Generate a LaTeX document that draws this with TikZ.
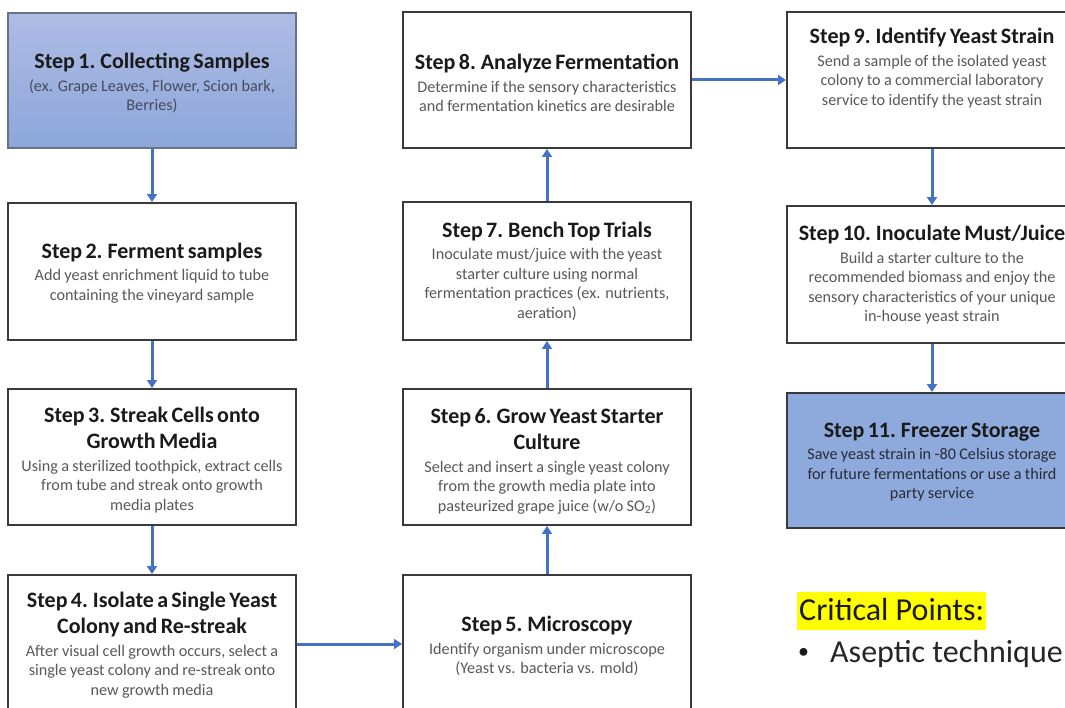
\documentclass[tikz,border=0pt]{standalone}
\usepackage{fontspec}
\setmainfont{Carlito}
\usetikzlibrary{arrows.meta}
\definecolor{arrowblue}{HTML}{4472C4}
\definecolor{boxline}{HTML}{3A3A3A}
\definecolor{titlecol}{HTML}{1A1A1A}
\definecolor{bodycol}{HTML}{595959}
\definecolor{bluetop}{RGB}{174,188,229}
\definecolor{bluebot}{RGB}{141,166,218}
\definecolor{blueline}{RGB}{105,115,135}
\definecolor{bluefill}{RGB}{142,169,219}
\definecolor{hilite}{HTML}{FFFF00}
\newcommand{\ttl}[1]{{\fontsize{22}{26.5}\selectfont\bfseries\color{titlecol}#1\par}\vspace{3pt}}
\newcommand{\bdy}[1]{{\fontsize{16.2}{19.5}\selectfont #1\par}}
\tikzset{
  box/.style={draw=boxline, line width=1.9pt, minimum width=288pt, minimum height=137pt, inner sep=0pt, fill=white},
  rbox/.style={box, minimum width=290pt},
  txt/.style={text width=300pt, align=center, inner sep=0pt, text=bodycol},
  flow/.style={draw=arrowblue, line width=3pt, -{Triangle[length=8pt,width=10pt]}},
}
\begin{document}
\begin{tikzpicture}[x=1pt,y=-1pt]
\useasboundingbox (0,0) rectangle (1065,708);
\clip (0,0) rectangle (1065,708);
% boxes
\node[box, draw=blueline, top color=bluetop, bottom color=bluebot, minimum height=135pt] (s1) at (152,80.5) {};
\node[box] (s2) at (152,271.5) {};
\node[box, minimum height=136pt] (s3) at (152,457) {};
\node[box, minimum height=138pt] (s4) at (152,644) {};
\node[box, minimum height=138pt] (s5) at (547,644) {};
\node[box, minimum height=136pt] (s6) at (547,457) {};
\node[box, minimum height=138pt] (s7) at (547,271) {};
\node[box, minimum height=136pt] (s8) at (547,80) {};
\node[rbox, minimum height=136pt] (s9) at (932,80) {};
\node[rbox] (s10) at (932,274.5) {};
\node[rbox, fill=bluefill, minimum height=135pt] (s11) at (932,460.5) {};
% texts
\node[txt, text={rgb,255:red,70;green,75;blue,90}] (t1) at (152,83) {\ttl{Step 1. Collecting Samples}\bdy{(ex. Grape Leaves, Flower, Scion bark,\\Berries)}};
\node[txt] (t2) at (152,273) {\ttl{Step 2. Ferment samples}\bdy{Add yeast enrichment liquid to tube\\containing the vineyard sample}};
\node[txt] (t3) at (152,460) {\ttl{Step 3. Streak Cells onto\\Growth Media}\bdy{Using a sterilized toothpick, extract cells\\from tube and streak onto growth\\media plates}};
\node[txt] (t4) at (152,645) {\ttl{Step 4. Isolate a Single Yeast\\Colony and Re-streak}\bdy{After visual cell growth occurs, select a\\single yeast colony and re-streak onto\\new growth media}};
\node[txt] (t5) at (547,646) {\ttl{Step 5. Microscopy}\bdy{Identify organism under microscope\\(Yeast vs. bacteria vs. mold)}};
\node[txt] (t6) at (547,461) {\ttl{Step 6. Grow Yeast Starter\\Culture}\bdy{Select and insert a single yeast colony\\from the growth media plate into\\pasteurized grape juice (w/o SO\textsubscript{2})}};
\node[txt] (t7) at (547,271) {\ttl{Step 7. Bench Top Trials}\bdy{Inoculate must/juice with the yeast\\starter culture using normal\\fermentation practices (ex. nutrients,\\aeration)}};
\node[txt] (t8) at (547,83) {\ttl{Step 8. Analyze Fermentation}\bdy{Determine if the sensory characteristics\\and fermentation kinetics are desirable}};
\node[txt] (t9) at (932,68) {\ttl{Step 9. Identify Yeast Strain}\bdy{Send a sample of the isolated yeast\\colony to a commercial laboratory\\service to identify the yeast strain}};
\node[txt] (t10) at (932,275) {\ttl{Step 10. Inoculate Must/Juice}\bdy{Build a starter culture to the\\recommended biomass and enjoy the\\sensory characteristics of your unique\\in-house yeast strain}};
\node[txt, text={rgb,255:red,40;green,44;blue,55}] (t11) at (932,462) {\ttl{Step 11. Freezer Storage}\bdy{Save yeast strain in -80 Celsius storage\\for future fermentations or use a third\\party service}};
% connectors
\draw[flow] (s1) -- (s2);
\draw[flow] (s2) -- (s3);
\draw[flow] (s3) -- (s4);
\draw[flow] (s4) -- (s5);
\draw[flow] (s5) -- (s6);
\draw[flow] (s6) -- (s7);
\draw[flow] (s7) -- (s8);
\draw[flow] (s8) -- (s9);
\draw[flow] (s9) -- (s10);
\draw[flow] (s10) -- (s11);
% critical points
\node[fill=hilite, inner xsep=2pt, inner ysep=0pt, text height=28pt, text depth=10pt, anchor=base west, font=\fontsize{32}{36}\selectfont, text=titlecol] (cp) at (797,620) {Critical Points:};
\node[anchor=base west, inner sep=0pt, font=\fontsize{22}{26}\selectfont, text=titlecol] (bul) at (798,658) {•};
\node[anchor=base west, inner sep=0pt, font=\fontsize{32}{36}\selectfont, text={rgb,255:red,38;green,38;blue,38}] (asep) at (830,662) {Aseptic technique};
\end{tikzpicture}
\end{document}
